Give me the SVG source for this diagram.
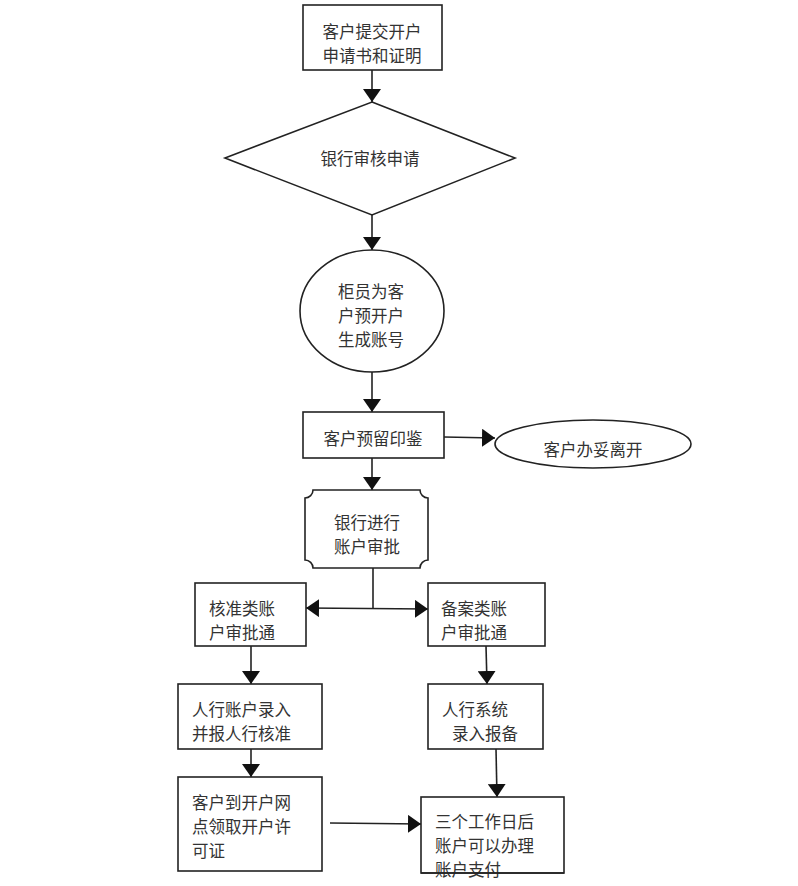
<svg xmlns="http://www.w3.org/2000/svg" width="798" height="886" viewBox="0 0 798 886">
<style>
.s{fill:#fff;stroke:#222;stroke-width:1.6}
.t{font-family:"Noto Sans CJK SC","Noto Sans",sans-serif;font-size:16.5px;fill:#333;dominant-baseline:central}
.m{text-anchor:middle}
.c{fill:none;stroke:#222;stroke-width:1.6}
</style>
<defs>
<marker id="ah" markerUnits="userSpaceOnUse" markerWidth="13" markerHeight="18" refX="13" refY="9" orient="auto-start-reverse" viewBox="0 0 13 18">
<path d="M0,0 L13,9 L0,18 z" fill="#111"/>
</marker>
</defs>
<rect width="798" height="886" fill="#fff"/>
<g id="connectors">
<line class="c" x1="372" y1="70" x2="372" y2="102" marker-end="url(#ah)"/>
<line class="c" x1="372" y1="215" x2="372" y2="250" marker-end="url(#ah)"/>
<line class="c" x1="372" y1="372" x2="372" y2="412" marker-end="url(#ah)"/>
<line class="c" x1="444" y1="437" x2="495" y2="438" marker-end="url(#ah)"/>
<line class="c" x1="372" y1="458" x2="372" y2="490" marker-end="url(#ah)"/>
<line class="c" x1="373" y1="568" x2="373" y2="608"/>
<line class="c" x1="306" y1="608" x2="428" y2="609" marker-start="url(#ah)" marker-end="url(#ah)"/>
<line class="c" x1="251" y1="646" x2="251" y2="684" marker-end="url(#ah)"/>
<line class="c" x1="486" y1="646" x2="487" y2="684" marker-end="url(#ah)"/>
<line class="c" x1="251" y1="749" x2="251" y2="777" marker-end="url(#ah)"/>
<line class="c" x1="496" y1="749" x2="497" y2="797" marker-end="url(#ah)"/>
<line class="c" x1="330" y1="823" x2="421" y2="824" marker-end="url(#ah)"/>
</g>
<g id="n1">
<rect class="s" x="303" y="5" width="139" height="65"/>
<text class="t m" x="372" y="31">客户提交开户</text>
<text class="t m" x="372" y="55">申请书和证明</text>
</g>
<g id="n2">
<polygon class="s" points="372,102 515,158 372,215 225,158"/>
<text class="t m" x="370" y="158">银行审核申请</text>
</g>
<g id="n3">
<ellipse class="s" cx="372" cy="311" rx="72" ry="61"/>
<text class="t m" x="371" y="291">柜员为客</text>
<text class="t m" x="371" y="315">户预开户</text>
<text class="t m" x="371" y="339">生成账号</text>
</g>
<g id="n4">
<rect class="s" x="303" y="412" width="141" height="46"/>
<text class="t m" x="373" y="438">客户预留印鉴</text>
</g>
<g id="n5">
<ellipse class="s" cx="593" cy="444" rx="98" ry="24"/>
<text class="t m" x="593" y="449">客户办妥离开</text>
</g>
<g id="n6">
<path class="s" d="M313,490 H420 A8,8 0 0 0 428,498 V560 A8,8 0 0 0 420,568 H313 A8,8 0 0 0 305,560 V498 A8,8 0 0 0 313,490 Z"/>
<text class="t m" x="367" y="522">银行进行</text>
<text class="t m" x="367" y="546">账户审批</text>
</g>
<g id="n7">
<rect class="s" x="195" y="583" width="111" height="63"/>
<text class="t" x="209" y="608">核准类账</text>
<text class="t" x="209" y="632">户审批通</text>
</g>
<g id="n8">
<rect class="s" x="428" y="583" width="117" height="63"/>
<text class="t" x="441" y="608">备案类账</text>
<text class="t" x="441" y="632">户审批通</text>
</g>
<g id="n9">
<rect class="s" x="178" y="684" width="144" height="65"/>
<text class="t" x="192" y="709">人行账户录入</text>
<text class="t" x="192" y="733">并报人行核准</text>
</g>
<g id="n10">
<rect class="s" x="428" y="684" width="115" height="65"/>
<text class="t" x="442" y="709">人行系统</text>
<text class="t" x="452" y="733">录入报备</text>
</g>
<g id="n11">
<rect class="s" x="178" y="777" width="144" height="94"/>
<text class="t" x="192" y="802">客户到开户网</text>
<text class="t" x="192" y="826">点领取开户许</text>
<text class="t" x="192" y="850">可证</text>
</g>
<g id="n12">
<rect class="s" x="421" y="797" width="143" height="76"/>
<text class="t" x="435" y="821">三个工作日后</text>
<text class="t" x="435" y="845">账户可以办理</text>
<text class="t" x="435" y="869">账户支付</text>
<line x1="421" y1="873" x2="564" y2="873" stroke="#222" stroke-width="1.6"/>
</g>
</svg>
